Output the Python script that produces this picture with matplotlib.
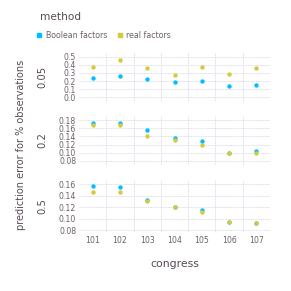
import matplotlib
matplotlib.use("Agg")
import matplotlib.pyplot as plt
from matplotlib.lines import Line2D

congress = ["101", "102", "103", "104", "105", "106", "107"]
facets = ["0.05", "0.2", "0.5"]

# prediction error per facet (fraction of observations)
boolean_err = [
    [0.234, 0.266, 0.225, 0.189, 0.197, 0.139, 0.156],
    [0.172, 0.174, 0.155, 0.135, 0.128, 0.099, 0.104],
    [0.157, 0.155, 0.132, 0.120, 0.115, 0.094, 0.092],
]
real_err = [
    [0.369, 0.455, 0.361, 0.275, 0.369, 0.287, 0.357],
    [0.168, 0.168, 0.142, 0.132, 0.120, 0.099, 0.100],
    [0.147, 0.147, 0.130, 0.120, 0.112, 0.094, 0.092],
]
yticks = [
    [0.0, 0.1, 0.2, 0.3, 0.4, 0.5],
    [0.08, 0.10, 0.12, 0.14, 0.16, 0.18],
    [0.08, 0.10, 0.12, 0.14, 0.16],
]
ylims = [(-0.06, 0.56), (0.07, 0.19), (0.075, 0.167)]
tick_fmt = ["{:.1f}", "{:.2f}", "{:.2f}"]

blue = "#00BFFF"
gold = "#D4CA3A"
tick_col = "#6c606b"
lab_col = "#564a55"
grid_col = "#d0d0e0"

W = H = 291
fig = plt.figure(figsize=(W / 100, H / 100), dpi=100)

# panel boxes in pixels (top, bottom)
panels = [(52, 102), (116, 165), (180, 233)]
x0, x1 = 79, 270
xs = list(range(len(congress)))

for i, (top, bot) in enumerate(panels):
    ax = fig.add_axes([x0 / W, 1 - bot / H, (x1 - x0) / W, (bot - top) / H])
    ax.scatter(xs, real_err[i], s=10, color=gold, linewidths=0, zorder=3)
    ax.scatter(xs, boolean_err[i], s=10, color=blue, linewidths=0, zorder=2)
    ax.set_xlim(-0.5, len(congress) - 0.5)
    ax.set_ylim(*ylims[i])
    ax.set_yticks(yticks[i])
    ax.set_yticklabels([tick_fmt[i].format(v) for v in yticks[i]])
    for v in yticks[i]:
        ax.axhline(v, color=grid_col, lw=0.6, ls=(0, (1, 1)), zorder=1)
    for k in range(len(congress) - 1):
        ax.axvline(k + 0.5, color=grid_col, lw=0.6, ls=(0, (1, 1)), zorder=1)
    ax.set_xticks(xs)
    if i == len(panels) - 1:
        ax.set_xticklabels(congress)
    else:
        ax.set_xticklabels([])
    ax.tick_params(length=0, labelsize=5.6, labelcolor=tick_col, pad=2)
    for sp in ax.spines.values():
        sp.set_visible(False)
    fig.text(42 / W, 1 - (top + bot) / 2 / H, facets[i], rotation=90,
             ha="center", va="center", fontsize=7.2, color=lab_col)

fig.text(21 / W, 1 - 145 / H, "prediction error for % observations", rotation=90,
         ha="center", va="center", fontsize=7, color=lab_col)
fig.text((x0 + x1) / 2 / W, 1 - 264 / H, "congress", ha="center", va="center",
         fontsize=7.8, color=lab_col)
fig.text(40 / W, 1 - 17 / H, "method", ha="left", va="center",
         fontsize=7.6, color=lab_col)

handles = [
    Line2D([], [], marker="s", ls="", color=blue, markersize=3.0),
    Line2D([], [], marker="s", ls="", color=gold, markersize=3.0),
]
leg = fig.legend(handles, ["Boolean factors", "real factors"], loc="center left",
                 bbox_to_anchor=(37 / W, 1 - 35 / H), ncol=2, frameon=False,
                 fontsize=5.7, handlelength=0.6, handletextpad=0.5,
                 columnspacing=1.3, borderpad=0, borderaxespad=0)
for t in leg.get_texts():
    t.set_color(tick_col)

fig.savefig("out.png", dpi=100)
